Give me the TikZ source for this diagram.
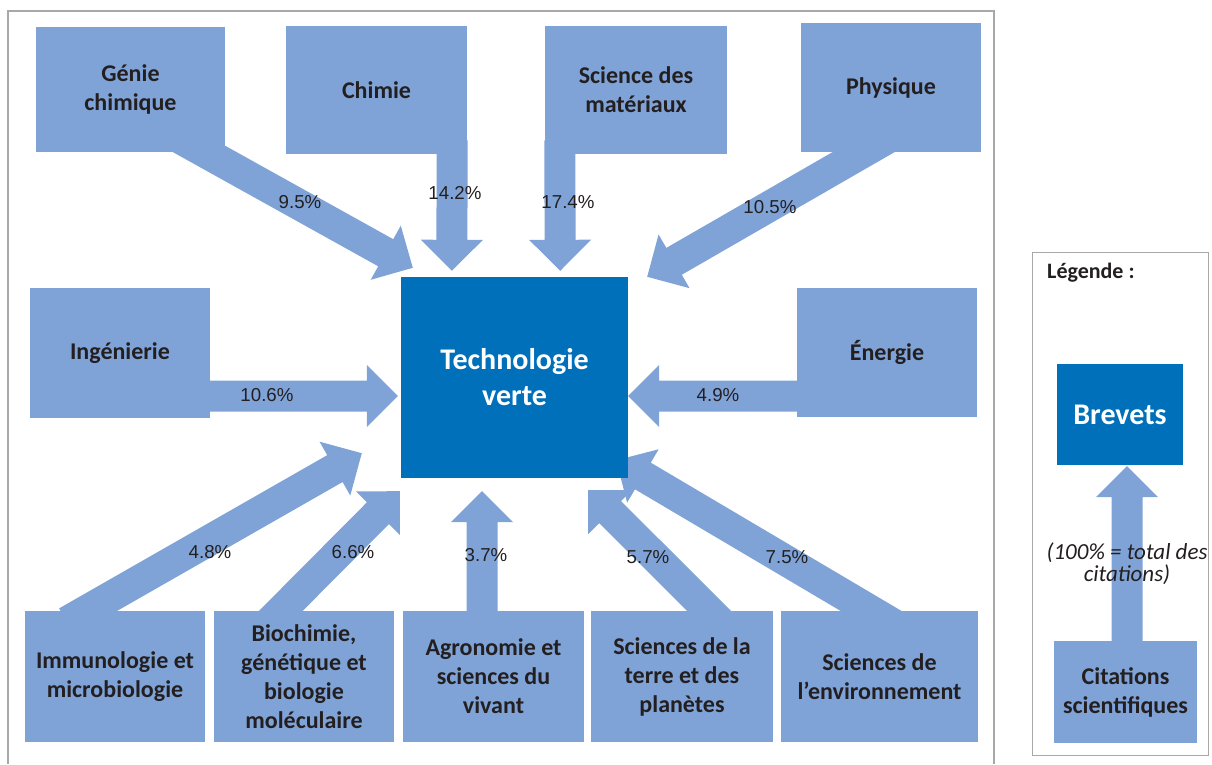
\documentclass[tikz,border=0pt]{standalone}
\usepackage{fontspec}
\setmainfont{Carlito}
\newfontfamily\arialfont{Liberation Sans}
\usetikzlibrary{calc}

\definecolor{fieldblue}{RGB}{127,163,215}
\definecolor{patentblue}{RGB}{0,112,186}
\definecolor{labelgrey}{RGB}{35,31,32}
\definecolor{framegrey}{RGB}{168,168,168}

\pgfdeclarelayer{arrows}
\pgfsetlayers{arrows,main}

\tikzset{
field/.style={fill=fieldblue,inner sep=0pt,align=center,text=labelgrey,font=\fontsize{24}{29}\selectfont\bfseries},
patent/.style={fill=patentblue,inner sep=0pt,align=center,text=white,font=\fontsize{30}{36}\selectfont\bfseries},
share/.style={inner sep=0pt,text=labelgrey,font=\arialfont\fontsize{18.7}{20}\selectfont},
flow/.style={fill=fieldblue},
}

% fat arrow, tail #1 to tip #2
\newcommand{\flowarrow}[2]{%
\coordinate (fa-s) at #1;
\coordinate (fa-e) at #2;
\coordinate (fa-h) at ($(fa-e)!31pt!(fa-s)$);
\fill[flow] ($(fa-s)!15.5pt!90:(fa-e)$) -- ($(fa-h)!15.5pt!90:(fa-e)$) -- ($(fa-h)!31pt!90:(fa-e)$) -- (fa-e)
 -- ($(fa-h)!31pt!-90:(fa-e)$) -- ($(fa-h)!15.5pt!-90:(fa-e)$) -- ($(fa-s)!15.5pt!-90:(fa-e)$) -- cycle;}

\begin{document}
\begin{tikzpicture}[x=1pt,y=-1pt]
\useasboundingbox (0,0) rectangle (1212,764);

\draw[framegrey,line width=1.5pt] (8,764) -- (8,11) -- (994,11) -- (994,764);
\draw[framegrey,line width=1pt] (1032,252) rectangle (1208,755);

\node[field,minimum width=189pt,minimum height=125pt] (genie) at (130.5,89.5) {Génie\\chimique};
\node[field,minimum width=181pt,minimum height=128pt] (chimie) at (376.5,90) {Chimie};
\node[field,minimum width=182pt,minimum height=128pt] (materiaux) at (636,90) {Science des\\matériaux};
\node[field,minimum width=180pt,minimum height=129pt] (physique) at (891,87.5) {Physique};
\node[field,minimum width=180pt,minimum height=130pt] (ingenierie) at (120,353) {Ingénierie};
\node[field,minimum width=180pt,minimum height=129pt] (energie) at (887,352.5) {Énergie};

\node[patent,minimum width=227pt,minimum height=201pt] (tv) at (514.5,377.5) {Technologie\\verte};

\node[field,minimum width=180pt,minimum height=131pt] (immuno) at (115,676.5) {Immunologie et\\microbiologie};
\node[field,minimum width=180pt,minimum height=131pt] (biochimie) at (304,676.5) {Biochimie,\\génétique et\\biologie\\moléculaire};
\node[field,minimum width=181pt,minimum height=131pt] (agronomie) at (493.5,676.5) {Agronomie et\\sciences du\\vivant};
\node[field,minimum width=182pt,minimum height=131pt] (terre) at (682,676.5) {Sciences de la\\terre et des\\planètes};
\node[field,minimum width=197pt,minimum height=131pt] (environnement) at (879.5,676.5) {Sciences de\\l’environnement};

% legende
\node[anchor=west,inner sep=0pt,text=labelgrey,font=\fontsize{22}{26}\selectfont\bfseries] (legende) at (1047,273) {Légende :};
\node[patent,minimum width=126pt,minimum height=101pt] (brevets) at (1120,414.5) {Brevets};
\node[field,minimum width=143pt,minimum height=102pt] (citations) at (1125.5,692) {Citations\\scientifiques};
\node[inner sep=0pt,align=center,text=labelgrey,font=\fontsize{23}{22}\selectfont\itshape] (note) at (1127,564) {(100\% = total des\\citations)};

\begin{pgfonlayer}{arrows}
\flowarrow{($(genie.center)+(-19.5,10.5)$)}{($(tv.north west)+(12,-9)$)}
\flowarrow{($(chimie.south east)+(-15,-14)$)}{($(tv.north west)+(51,-6)$)}
\flowarrow{($(materiaux.south west)+(15,-14)$)}{($(tv.north east)+(-68,-6)$)}
\flowarrow{($(physique.center)+(56,16.5)$)}{($(tv.north east)+(19,0)$)}
\flowarrow{($(ingenierie.east)+(-17,43)$)}{($(tv.west)+(-3,18.5)$)}
\flowarrow{($(energie.center)+(-19,43.5)$)}{($(tv.east)+(0,18.5)$)}
\flowarrow{($(immuno.north west)+(42,11)$)}{($(tv.south west)+(-39,-25)$)}
\flowarrow{($(biochimie.north)+(-36,13)$)}{($(tv.south west)+(-1,13)$)}
\flowarrow{($(agronomie.north)+(-11.5,29)$)}{($(tv.south)+(-32.5,13)$)}
\flowarrow{($(terre.north)+(51,24)$)}{($(tv.south east)+(-40,12)$)}
\flowarrow{($(environnement.north)+(23.5,19)$)}{($(tv.south east)+(-12,-18)$)}
\flowarrow{($(citations.north)+(1.5,12)$)}{($(brevets.south)+(7,1)$)}
\end{pgfonlayer}

\node[share] (p-genie) at (300,202) {9.5\%};
\node[share] (p-chimie) at (455,193) {14.2\%};
\node[share] (p-materiaux) at (568,202) {17.4\%};
\node[share] (p-physique) at (770,207) {10.5\%};
\node[share] (p-ingenierie) at (267,395) {10.6\%};
\node[share] (p-energie) at (718,395) {4.9\%};
\node[share] (p-immuno) at (210,552) {4.8\%};
\node[share] (p-biochimie) at (353,552) {6.6\%};
\node[share] (p-agronomie) at (486,555) {3.7\%};
\node[share] (p-terre) at (648,557) {5.7\%};
\node[share] (p-environnement) at (787,557) {7.5\%};

\end{tikzpicture}
\end{document}
